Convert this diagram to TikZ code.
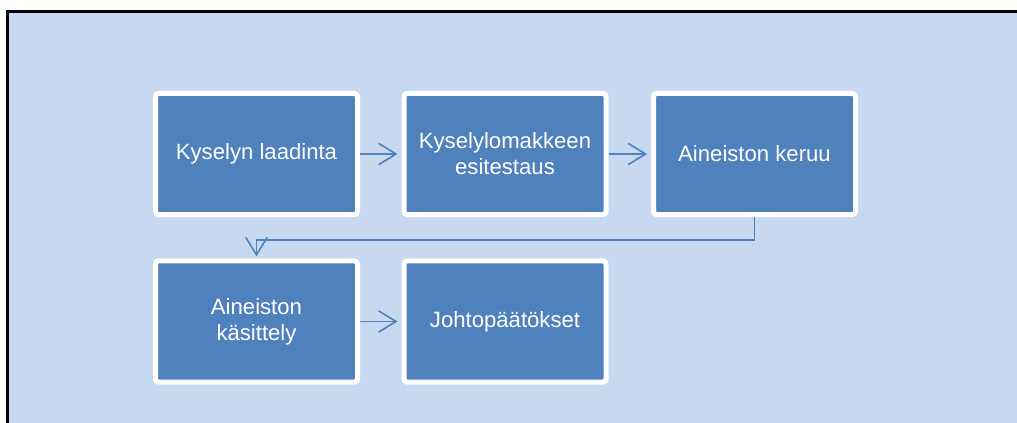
\documentclass[tikz,border=0pt]{standalone}
\usepackage{fontspec}
\setmainfont{Liberation Sans}
\usetikzlibrary{arrows.meta,calc}
\definecolor{panel}{HTML}{C6D9F1}
\definecolor{stepblue}{HTML}{4F81BD}
\begin{document}
\begin{tikzpicture}[x=0.75pt,y=-0.75pt,
  stepbox/.style={draw=white,fill=stepblue,line width=3.75pt,rounded corners=2.5pt,
    minimum width=151.5pt,minimum height=91pt,inner sep=0pt,
    text=white,align=center,font=\fontsize{16.6}{19.5}\selectfont},
  flow/.style={draw=stepblue,line width=1.2pt,
    -{Straight Barb[length=13pt,width=16pt,line width=1.2pt]}},
]
\useasboundingbox (0,0) rectangle (1017,423);
% panel with its top and left rules
\fill[panel] (7,11) rectangle (1017,423);
\draw[line width=2pt,line cap=rect] (1017,11.3) -- (7.2,11.3) -- (7.2,423);

% process steps
\node[stepbox] (s1) at (256.5,154) {Kyselyn laadinta};
\node[stepbox] (s2) at (505,154) {Kyselylomakkeen\\esitestaus};
\node[stepbox] (s3) at (754.5,154) {Aineiston keruu};
\node[stepbox] (s4) at (256.5,321.5) {Aineiston\\käsittely};
\node[stepbox] (s5) at (505,321.5) {Johtopäätökset};

% connectors
\draw[flow,shorten >=3pt] (s1.east) -- (s2.west);
\draw[flow,shorten >=3pt] (s2.east) -- (s3.west);
\draw[flow,shorten >=1.5pt] (s3.south) -- ++(0,23) -| (s4.north);
\draw[flow,shorten >=3pt] (s4.east) -- (s5.west);
\end{tikzpicture}
\end{document}
